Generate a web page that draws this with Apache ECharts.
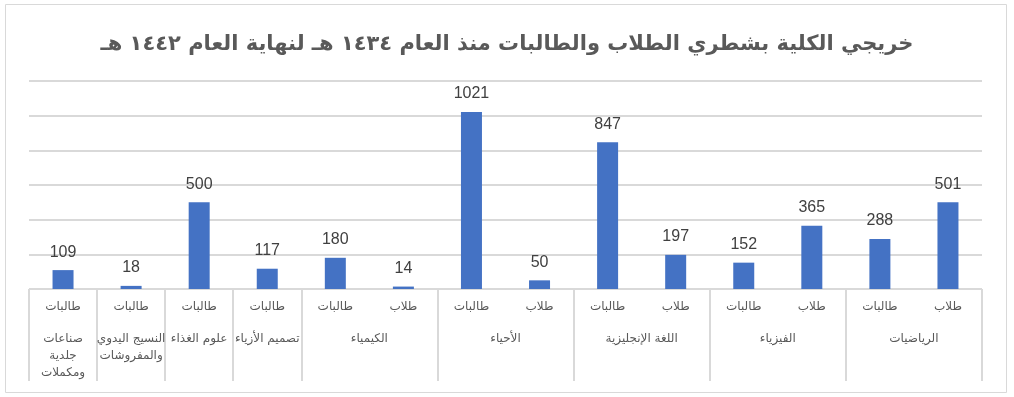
<!DOCTYPE html>
<html><head><meta charset="utf-8">
<script src="https://cdn.jsdelivr.net/npm/echarts@6/dist/echarts.min.js"></script>
<style>html,body{margin:0;padding:0;background:#fff}#c{width:1014px;height:397px}</style>
</head><body><div id="c"></div>
<script>
var titleText = 'خريجي الكلية بشطري الطلاب والطالبات منذ العام ١٤٣٤ هـ لنهاية العام ١٤٤٢ هـ';
var innerLabels = ['طالبات','طالبات','طالبات','طالبات','طالبات','طلاب','طالبات','طلاب','طالبات','طلاب','طالبات','طلاب','طالبات','طلاب'];
var values = [109, 18, 500, 117, 180, 14, 1021, 50, 847, 197, 152, 365, 288, 501];
var groupNames = ['صناعات\nجلدية\nومكملات','النسيج اليدوي\nوالمفروشات','علوم الغذاء','تصميم الأزياء','الكيمياء','الأحياء','اللغة الإنجليزية','الفيزياء','الرياضيات'];
var groupSizes = [1, 1, 1, 1, 2, 2, 2, 2, 2];
var yTicks = [0, 200, 400, 600, 800, 1000, 1200];

var bounds = [0], centers = [], acc = 0;
groupSizes.forEach(function (s) { centers.push(acc + s / 2); acc += s; bounds.push(acc); });
var font = '"DejaVu Sans", Arial, sans-serif';

var chart = echarts.init(document.getElementById('c'));
chart.setOption({
  animation: false,
  textStyle: { fontFamily: font },
  graphic: [{ type: 'rect', shape: { x: 5.5, y: 4.5, width: 1001, height: 388 }, style: { fill: 'none', stroke: '#d9d9d9', lineWidth: 1 }, silent: true }],
  title: { text: titleText, left: 'center', top: 29, textStyle: { fontSize: 21, fontWeight: 'bold', color: '#595959', fontFamily: font } },
  grid: { left: 29, right: 32, top: 81, bottom: 108, containLabel: false },
  xAxis: [{
    type: 'category', data: innerLabels,
    axisLine: { lineStyle: { color: '#d9d9d9', width: 1 } },
    axisTick: { show: false },
    axisLabel: { color: '#595959', fontSize: 12, margin: 12, interval: 0 }
  }, {
    type: 'value', min: 0, max: acc, position: 'bottom',
    axisLine: { show: false },
    splitLine: { show: false },
    axisTick: { show: true, customValues: bounds, length: 92, lineStyle: { color: '#d9d9d9', width: 2 } },
    axisLabel: {
      customValues: centers, color: '#595959', fontSize: 12, margin: 41, lineHeight: 17,
      formatter: function (v) { var i = centers.indexOf(v); return i >= 0 ? groupNames[i] : ''; }
    }
  }],
  yAxis: {
    type: 'value', min: yTicks[0], max: yTicks[yTicks.length - 1], interval: yTicks[1] - yTicks[0],
    axisLine: { show: false }, axisTick: { show: false }, axisLabel: { show: false },
    splitLine: { lineStyle: { color: '#d9d9d9', width: 2 } }
  },
  series: [{
    type: 'bar', data: values, xAxisIndex: 0, barWidth: 21,
    itemStyle: { color: '#4472c4' },
    label: { show: true, position: 'top', distance: 10, color: '#404040', fontSize: 16, fontFamily: '"Liberation Sans", Arial, sans-serif' }
  }]
});
</script></body></html>
